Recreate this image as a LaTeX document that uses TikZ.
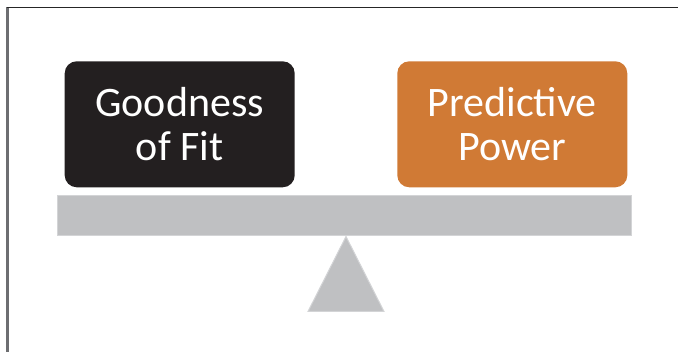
\documentclass[tikz,border=0pt]{standalone}
\usepackage{xcolor}
\usepackage{fontspec}
\usepackage{tikz}
\usetikzlibrary{positioning}

\newfontfamily\boxfont{Carlito}

\definecolor{fitblack}{HTML}{231F20}
\definecolor{predorange}{HTML}{D07A35}
\definecolor{beamgray}{HTML}{BFC0C2}
\definecolor{beamedge}{HTML}{D3D4D6}
\definecolor{framegray}{HTML}{6D6E71}

\tikzset{
	weight/.style={rounded corners=12pt, minimum width=230pt, minimum height=126pt,
		inner sep=0pt, align=center, text=white,
		font=\boxfont\fontsize{42pt}{44pt}\selectfont},
	beam/.style={fill=beamgray, draw=beamedge, line width=1pt,
		minimum width=574pt, minimum height=40pt, inner sep=0pt},
	stand/.style={fill=beamgray, draw=beamedge, line width=1pt},
}

\begin{document}
\begin{tikzpicture}[x=1pt, y=1pt]
		\useasboundingbox (0,0) rectangle (678,352);
		% frame
		\draw[framegray, line width=2.4pt] (7.5,0) -- (7.5,345);
		\draw[black!85, line width=1.3pt] (6.5,344.5) -- (678,344.5);

		\node[beam] (bar) at (344,136) {};
		\node[weight, fill=fitblack, above=8pt of bar.north west, anchor=south west, xshift=8pt] (fit) {Goodness\\of Fit};
		\node[weight, fill=predorange, above=8pt of bar.north east, anchor=south east, xshift=-4pt] (pred) {Predictive\\Power};

		\coordinate (tip) at ([xshift=2pt]bar.south);
		\draw[stand] (tip) -- ++(-38,-75) -- ++(76,0) -- cycle;
	\end{tikzpicture}
\end{document}
